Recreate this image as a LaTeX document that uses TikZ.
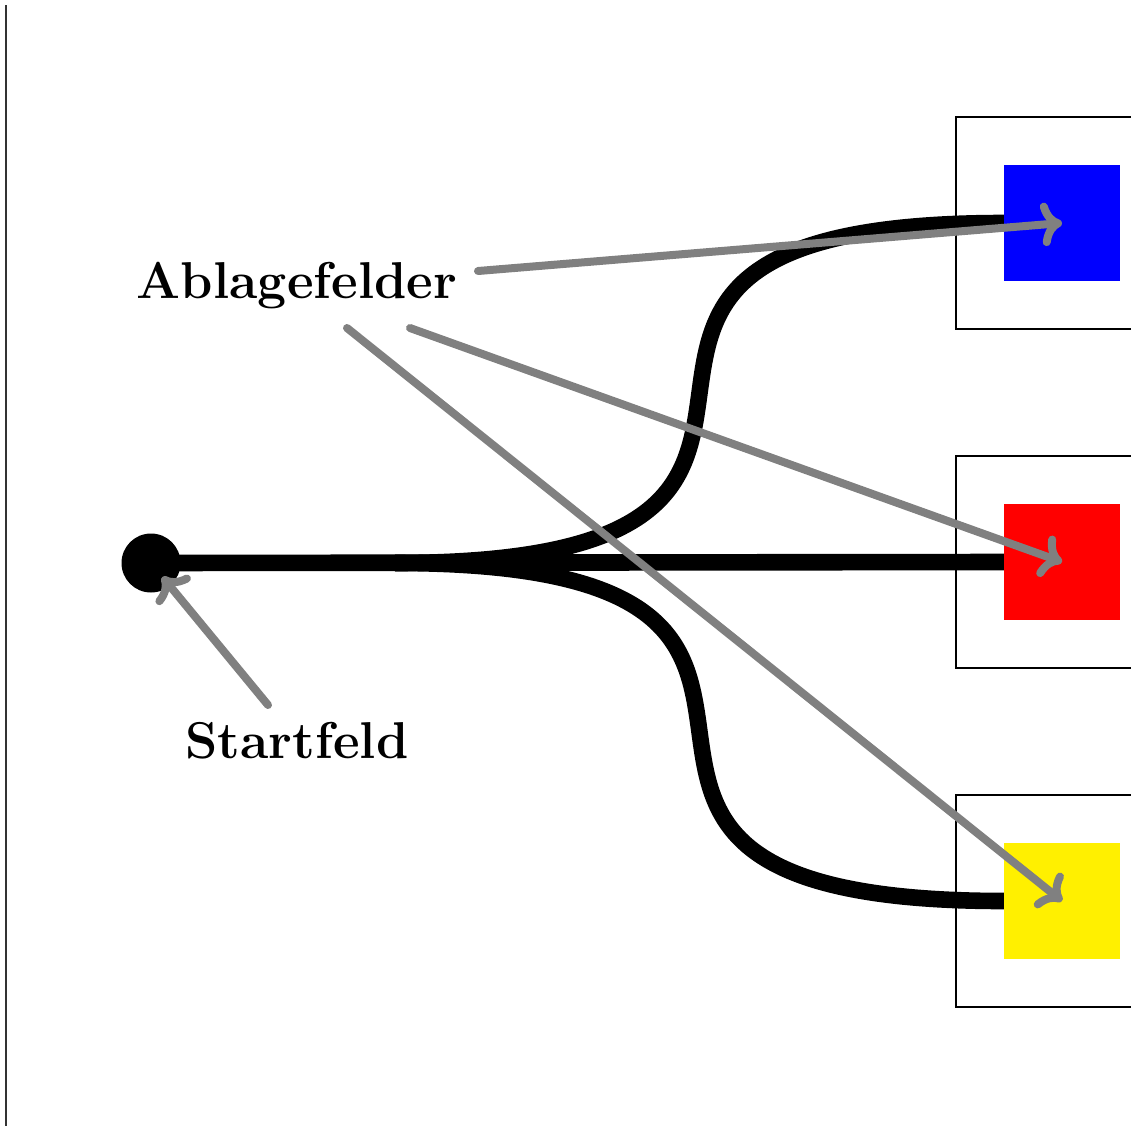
\documentclass[tikz,border=0pt]{standalone}
\usetikzlibrary{arrows.meta}
\definecolor{fieldyellow}{RGB}{255,240,0}
\begin{document}
\begin{tikzpicture}[x=0.5pt,y=-0.5pt,
  frame/.style={draw=black,line width=1pt,minimum size=106pt,inner sep=0pt,outer sep=0pt},
  field/.style={minimum size=58pt,inner sep=0pt,outer sep=0pt},
  track/.style={line width=8.3pt,black},
  pointer/.style={line width=4pt,gray,line cap=round,-{To[round]}},
  caption/.style={font=\fontsize{25.9}{31}\selectfont\bfseries,inner sep=0pt,anchor=base}]
  \useasboundingbox (0,0) rectangle (1131,1126);
  \clip (0,0) rectangle (1131,1126);

  % left border line
  \coordinate (bt) at (6,5);
  \coordinate (bb) at (6,1126);
  \draw[line width=0.9pt,black!80] (bt) -- (bb);

  % storage frames
  \node[frame] (fb) at (1062,223) {};
  \node[frame] (fr) at (1062,562) {};
  \node[frame] (fy) at (1062,901) {};

  % start field and tracks
  \node[circle,fill=black,minimum size=29.5pt,inner sep=0pt] (start) at (151,563) {};
  \coordinate (fork) at (395,563);
  \node[field] (blue) at (1062,223) {};
  \node[field] (red) at (1062,562) {};
  \node[field] (yel) at (1062,901) {};
  \draw[track] (start.center) -- (red.west);
  \draw[track] (fork) .. controls +(563,0) and +(-563,0) .. (blue.west);
  \draw[track] (fork) .. controls +(563,0) and +(-563,0) .. (yel.west);

  % coloured fields
  \fill[blue] (blue.south west) rectangle (blue.north east);
  \fill[red] (red.south west) rectangle (red.north east);
  \fill[fieldyellow] (yel.south west) rectangle (yel.north east);

  % labels
  \node[caption] (abl) at (297,298) {Ablagefelder};
  \node[caption] (stf) at (297,758) {Startfeld};

  % pointers
  \coordinate (p1) at (478,271);
  \coordinate (p2) at (410,328);
  \coordinate (p3) at (347,328);
  \coordinate (p4) at (268,705);
  \draw[pointer] (p1) -- (blue.center);
  \draw[pointer] (p2) -- (red.center);
  \draw[pointer] (p3) -- (yel.center);
  \draw[pointer,shorten >=9pt] (p4) -- (start.center);
\end{tikzpicture}
\end{document}
